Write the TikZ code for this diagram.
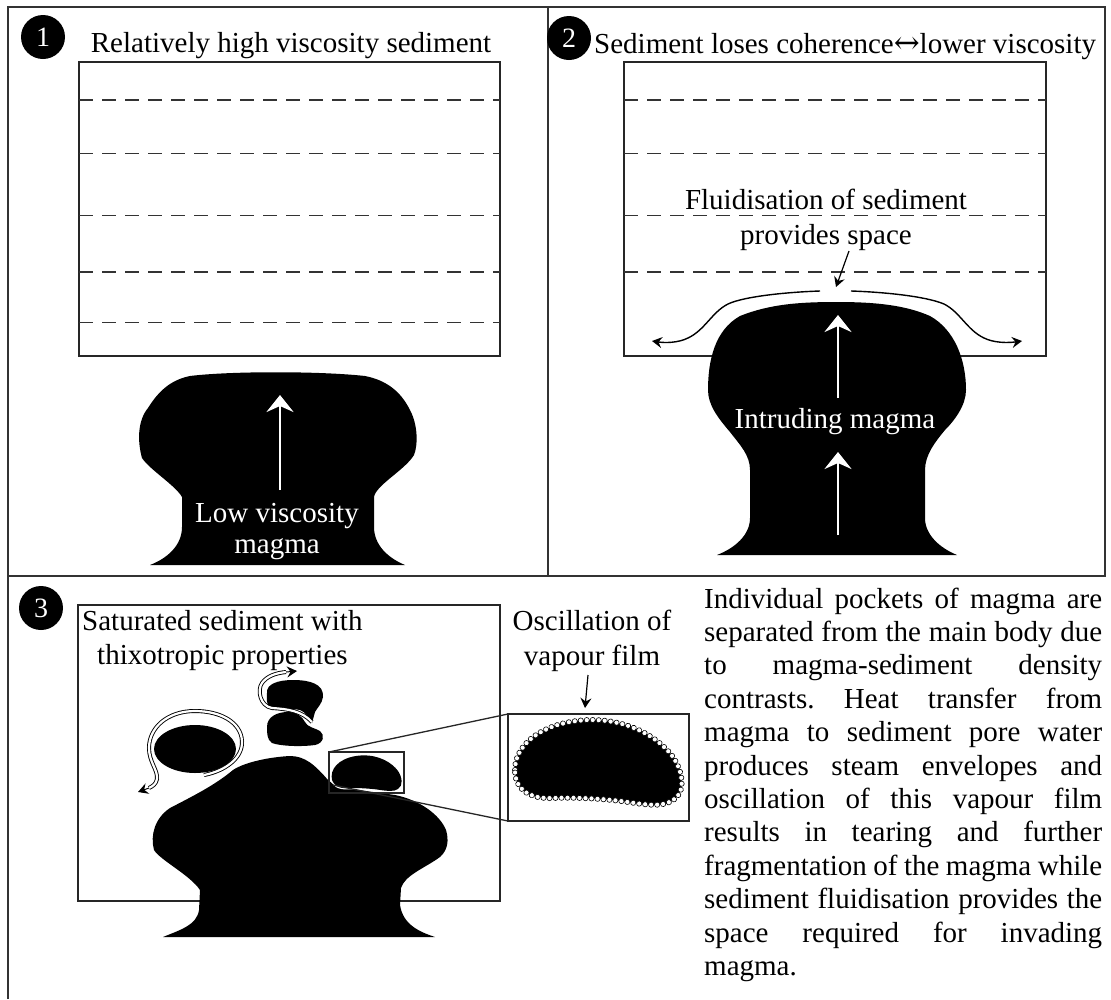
\documentclass[tikz,border=0pt]{standalone}
\usepackage{fontspec}
\setmainfont{Liberation Serif}
\newfontfamily\symbolfont{DejaVu Serif}
\usetikzlibrary{arrows.meta,decorations.markings}
\frenchspacing
% outline of a detached magma pocket, centred on the origin
\newcommand\beanoutline{(-83,8) .. controls (-83,-18) and (-55,-40) .. (-10,-42) .. controls (30,-43) and (60,-25) .. (75,-5) .. controls (85,10) and (88,30) .. (75,38) .. controls (65,45) and (50,43) .. (30,40) .. controls (10,37) and (-20,35) .. (-45,36) .. controls (-65,37) and (-83,30) .. cycle}
\begin{document}
\begin{tikzpicture}[x=1pt,y=-1pt,
  border/.style={line width=2pt, draw=black!80},
  sedbox/.style={line width=1.5pt, draw=black!85},
  layer/.style={line width=1.4pt, draw=black!80, dash pattern=on 14pt off 9pt},
  thinlayer/.style={layer, line width=1pt},
  txt/.style={font=\fontsize{29}{33.4}\selectfont, inner sep=0pt},
  whitetxt/.style={txt, text=white},
  numdisc/.style={circle, fill=black, text=white, minimum size=44pt, inner sep=0pt, font=\fontsize{28}{28}\selectfont},
  uparrow/.style={draw=white, line width=2.6pt, -{Stealth[length=17pt,width=27pt,inset=6pt]}},
  flowarrow/.style={draw=black, line width=1.4pt, -{Stealth[length=10pt,width=11pt,inset=3.5pt]}},
  swirl/.style={draw=black, double=white, double distance=2.2pt, line width=0.9pt},
  vapour/.style={postaction={decorate, decoration={markings, mark=between positions 0 and 1 step 6pt with {\draw[line width=0.6pt, fill=white] (0,0) circle (2.6pt);}}}},
]
\useasboundingbox (0,0) rectangle (1111,999);
\fill[white] (0,0) rectangle (1111,999);

% ---------- frame ----------
\draw[border] (8,999) -- (8,7) -- (1105,7) -- (1105,576) -- (8,576);
\draw[border] (548,7) -- (548,576);

% ---------- panel 1 ----------
\node[numdisc] (n1) at (43,37) {1};
\node[txt, anchor=base] (t1) at (291,52) {Relatively high viscosity sediment};
\draw[sedbox] (79,62) rectangle (500,356);
\draw[layer] (79,100) -- (500,100);
\draw[layer] (79,153.5) -- (500,153.5);
\draw[thinlayer] (79,215.7) -- (500,215.7);
\draw[layer, line width=1.7pt] (79,272) -- (500,272);
\draw[thinlayer] (79,322) -- (500,322);

\fill (150,565) .. controls (168,558) and (182,545) .. (182,527)
  -- (182,497) .. controls (175,485) and (150,470) .. (142,458)
  .. controls (137,440) and (138,420) .. (148,408)
  .. controls (158,392) and (170,380) .. (190,376)
  .. controls (230,371) and (320,371) .. (365,376)
  .. controls (385,380) and (400,390) .. (410,410)
  .. controls (418,425) and (418,445) .. (414,455)
  .. controls (405,470) and (376,485) .. (374,497)
  -- (374,527) .. controls (374,545) and (388,558) .. (405,565) -- cycle;
\coordinate (a1s) at (280,490);
\coordinate (a1e) at (280,395);
\draw[uparrow] (a1s) -- (a1e);
\node[whitetxt, anchor=base] (low1) at (277,522) {Low viscosity};
\node[whitetxt, anchor=base] (low2) at (277,553) {magma};

% ---------- panel 2 ----------
\node[numdisc] (n2) at (569,38) {2};
\node[txt, anchor=base west] (t2) at (594,53) {Sediment loses coherence{\symbolfont\fontsize{31}{31}\selectfont ↔}lower viscosity};
\draw[sedbox] (624,62) rectangle (1046,356);
\draw[layer] (624,100) -- (1046,100);
\draw[layer] (624,153.5) -- (1046,153.5);
\draw[thinlayer] (624,215.7) -- (1046,215.7);
\draw[layer, line width=1.7pt] (624,272) -- (1046,272);
\node[txt, anchor=base] (fl1) at (826,209) {Fluidisation of sediment};
\node[txt, anchor=base] (fl2) at (826,244) {provides space};
\coordinate (sp1) at (849,251);
\coordinate (sp2) at (836,287);
\draw[flowarrow, line width=1.2pt] (sp1) -- (sp2);

\fill (717,555) .. controls (735,548) and (750,535) .. (750,518)
  -- (750,470) .. controls (750,455) and (740,445) .. (730,432)
  .. controls (718,418) and (708,405) .. (708,390)
  .. controls (708,360) and (715,330) .. (740,316)
  .. controls (770,304) and (800,302) .. (837,302)
  .. controls (875,302) and (905,305) .. (930,316)
  .. controls (955,330) and (966,360) .. (966,390)
  .. controls (966,405) and (955,420) .. (945,430)
  .. controls (935,442) and (925,455) .. (925,470)
  -- (925,518) .. controls (925,535) and (940,548) .. (957,555) -- cycle;

\coordinate (cl0) at (820,291);
\coordinate (cl1) at (652,341);
\coordinate (cr0) at (851,291);
\coordinate (cr1) at (1022,341);
\draw[flowarrow] (cl0) .. controls (790,292) and (745,296) .. (728,304)
  .. controls (712,312) and (705,330) .. (688,338)
  .. controls (678,343) and (665,343) .. (cl1);
\draw[flowarrow] (cr0) .. controls (882,292) and (925,296) .. (944,304)
  .. controls (960,312) and (967,330) .. (984,338)
  .. controls (994,343) and (1008,343) .. (cr1);

\coordinate (a2s) at (838,398);
\coordinate (a2e) at (838,315);
\coordinate (a3s) at (838,535);
\coordinate (a3e) at (838,452);
\draw[uparrow] (a2s) -- (a2e);
\draw[uparrow] (a3s) -- (a3e);
\node[whitetxt, anchor=base] (intr) at (835,428) {Intruding magma};

% ---------- panel 3 ----------
\node[numdisc] (n3) at (41,608) {3};
\draw[sedbox] (78,605) rectangle (500,901);
\node[txt, anchor=base west] (sat1) at (82,630) {Saturated sediment with};
\node[txt, anchor=base west] (sat2) at (97,664) {thixotropic properties};

% main magma body
\fill (163,937) .. controls (180,930) and (197,925) .. (199,910)
  -- (200,890) .. controls (190,875) and (160,860) .. (154,850)
  .. controls (150,835) and (155,818) .. (170,808)
  .. controls (195,795) and (215,785) .. (233,770)
  .. controls (245,762) and (270,757) .. (290,756)
  .. controls (305,756) and (315,765) .. (328,780)
  .. controls (335,788) and (360,790) .. (395,795)
  .. controls (420,800) and (440,815) .. (446,830)
  .. controls (449,840) and (448,850) .. (440,857)
  .. controls (425,868) and (405,875) .. (401,888)
  -- (400,905) .. controls (403,925) and (420,932) .. (435,937) -- cycle;

% rotating pocket
\fill (195,749) ellipse [x radius=41pt, y radius=24pt];
\coordinate (s1a) at (204,775);
\coordinate (s1b) at (149,788);
\coordinate (s1c) at (138,792);
\draw[swirl] (s1a) .. controls (225,771) and (243,758) .. (242,741)
  .. controls (241,722) and (220,711) .. (195,711)
  .. controls (167,711) and (149,728) .. (149,748)
  .. controls (149,762) and (158,770) .. (157,779)
  .. controls (156,784) and (153,786) .. (s1b);
\draw[flowarrow, line width=1pt] (s1b) -- (s1c);

% tearing pockets
\fill (267,693) .. controls (266,684) and (278,680) .. (293,680)
  .. controls (310,680) and (324,684) .. (323,697)
  .. controls (322,704) and (317,708) .. (315,712) -- (312,723)
  .. controls (308,716) and (305,712) .. (300,710)
  .. controls (290,708) and (275,709) .. (268,705)
  .. controls (266,700) and (267,697) .. cycle;
\fill (267,727) .. controls (267,716) and (278,712) .. (288,712)
  .. controls (296,712) and (302,716) .. (305,722)
  .. controls (307,727) and (315,728) .. (320,731)
  .. controls (325,735) and (324,743) .. (315,745)
  .. controls (300,747) and (280,746) .. (272,743)
  .. controls (267,740) and (267,733) .. cycle;
\coordinate (s2a) at (312,722);
\coordinate (s2b) at (286,672);
\coordinate (s2c) at (297,671);
\draw[swirl] (s2a) .. controls (302,711) and (288,709) .. (272,708)
  .. controls (260,706) and (257,690) .. (262,683)
  .. controls (267,676) and (276,673) .. (s2b);
\draw[flowarrow, line width=1pt] (s2b) -- (s2c);

% detached pocket and its enlargement
\draw[white, line width=2.5pt, shift={(366.5,773)}, scale=0.42] \beanoutline;
\fill[shift={(366.5,773)}, scale=0.42] \beanoutline;
\coordinate (sbnw) at (329,752);
\coordinate (sbse) at (404,793);
\coordinate (sblow) at (333,785);
\draw[sedbox, line width=1.3pt] (sbnw) rectangle (sbse);
\coordinate (bbnw) at (508,714);
\coordinate (bbse) at (689,821);
\coordinate (bbsw) at (508,821);
\draw[line width=1.3pt, black!85] (sbnw) -- (bbnw);
\draw[line width=1.3pt, black!85] (sblow) -- (bbsw);
\draw[sedbox, line width=1.3pt] (bbnw) rectangle (bbse);
\fill[shift={(598,762)}] \beanoutline;
\path[shift={(598,762)}, vapour] \beanoutline;

\node[txt, anchor=base] (osc1) at (592,630) {Oscillation of};
\node[txt, anchor=base] (osc2) at (592,665) {vapour film};
\coordinate (va0) at (588,675);
\coordinate (va1) at (585,708);
\draw[flowarrow, line width=1.2pt] (va0) -- (va1);

% explanatory paragraph
\node[txt, anchor=base west] (para) at (704,608) {\parbox[t]{398pt}{\fontsize{29}{33.4}\selectfont
\makebox[398pt][s]{Individual pockets of magma are}\\
\makebox[398pt][s]{separated from the main body due}\\
\makebox[398pt][s]{to magma-sediment density}\\
\makebox[398pt][s]{contrasts. Heat transfer from}\\
\makebox[398pt][s]{magma to sediment pore water}\\
\makebox[398pt][s]{produces steam envelopes and}\\
\makebox[398pt][s]{oscillation of this vapour film}\\
\makebox[398pt][s]{results in tearing and further}\\
\makebox[398pt][s]{fragmentation of the magma while}\\
\makebox[398pt][s]{sediment fluidisation provides the}\\
\makebox[398pt][s]{space required for invading}\\
magma.}};
\end{tikzpicture}
\end{document}
